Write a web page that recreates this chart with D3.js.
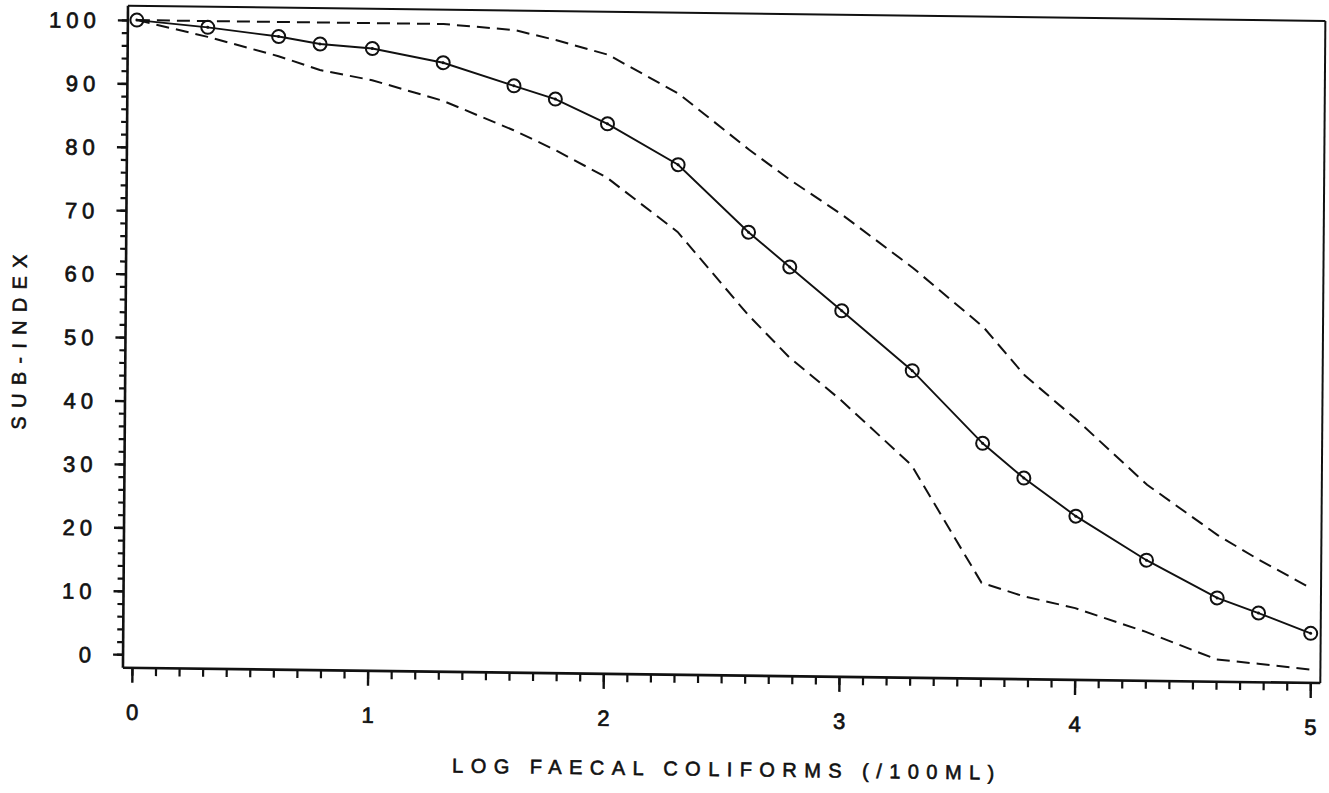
<!DOCTYPE html>
<html>
<head>
<meta charset="utf-8">
<script src="https://cdn.jsdelivr.net/npm/d3@7"></script>
<style>
  html, body { margin: 0; padding: 0; background: #fff; }
  svg { display: block; }
  text { font-family: "Liberation Sans", Arial, Helvetica, sans-serif; fill: #111; }
</style>
</head>
<body>
<svg id="chart" width="1329" height="793"></svg>
<script>
// log10 of faecal coliform count per 100 ml: 1, 2, 4, 6, 10, 20, ... 100000
const logCount   = [0, 0.301, 0.602, 0.778, 1, 1.301, 1.602, 1.778, 2, 2.301, 2.602, 2.778, 3, 3.301, 3.602, 3.778, 4, 4.301, 4.602, 4.778, 5];
// mean sub-index curve (plotted with circle markers)
const subIndex   = [100, 99, 97.7, 96.6, 96.0, 93.9, 90.4, 88.4, 84.6, 78.3, 67.8, 62.4, 55.6, 46.3, 35.0, 29.6, 23.7, 16.9, 11.1, 8.8, 5.7];
// upper and lower envelope curves (dashed)
const upperBound = [100, 100, 100, 100, 100, 100, 99.2, 97.7, 95.5, 89.5, 80.8, 76.1, 70.7, 62.5, 53.3, 45.8, 38.9, 28.8, 21.0, 17.2, 12.8];
const lowerBound = [100, 97.5, 94.6, 92.5, 91.0, 87.9, 83.4, 80.4, 76.1, 67.7, 54.8, 48.2, 41.5, 31.4, 13.0, 11.0, 9.2, 5.6, 1.4, 0.8, 0.0];

const xTicks = [0, 1, 2, 3, 4, 5];
const yTicks = [0, 10, 20, 30, 40, 50, 60, 70, 80, 90, 100];
const xTitle = "LOG FAECAL COLIFORMS (/100ML)";
const yTitle = "SUB-INDEX";

const W = 1197, H = 662;
const svg = d3.select("#chart");

// the plotted sheet sits slightly skewed on the page
const g = svg.append("g")
  .attr("transform", "matrix(1.0003,0.01282,-0.00763,1,128,5.7)");

const x = d3.scaleLinear().domain([0, 5]).range([9, 1187]);
const y = d3.scaleLinear().domain([0, 100]).range([648.6, 14.3]);

// plotter-style lettering: regular face thickened with a thin outline
const inkText = sel => sel
  .attr("fill", "#111")
  .attr("stroke", "#111")
  .attr("stroke-width", 0.7)
  .style("font-family", '"Liberation Sans", Arial, sans-serif');

// minor ticks
const xMinor = d3.range(0, 50.5, 1).map(d => d / 10);
const yMinor = d3.range(0, 101, 2);

g.append("g")
  .attr("transform", `translate(0,${H})`)
  .call(d3.axisBottom(x).tickValues(xMinor).tickSize(8).tickFormat(""))
  .call(a => a.select(".domain").remove())
  .call(a => a.selectAll("line").attr("stroke", "#111").attr("stroke-width", 2.2));

g.append("g")
  .call(d3.axisLeft(y).tickValues(yMinor).tickSize(6).tickFormat(""))
  .call(a => a.select(".domain").remove())
  .call(a => a.selectAll("line").attr("stroke", "#111").attr("stroke-width", 2.2));

// major ticks with labels
g.append("g")
  .attr("transform", `translate(0,${H})`)
  .call(d3.axisBottom(x).tickValues(xTicks).tickSize(15).tickFormat(d3.format("d")))
  .call(a => a.select(".domain").remove())
  .call(a => a.selectAll("line").attr("stroke", "#111").attr("stroke-width", 2.4))
  .call(a => a.selectAll("text")
    .attr("y", 52).attr("dy", 0)
    .attr("font-size", 22)
    .call(inkText));

g.append("g")
  .call(d3.axisLeft(y).tickValues(yTicks).tickSize(10).tickPadding(17).tickFormat(d3.format("d")))
  .call(a => a.select(".domain").remove())
  .call(a => a.selectAll("line").attr("stroke", "#111").attr("stroke-width", 2.4))
  .call(a => a.selectAll("text")
    .attr("font-size", 22)
    .attr("dy", "0.36em")
    .attr("letter-spacing", "5px")
    .call(inkText));

// frame
const frame = g.append("g").attr("stroke", "#111").attr("fill", "none");
frame.append("line").attr("x1", 0).attr("y1", 0).attr("x2", W).attr("y2", 0).attr("stroke-width", 2);
frame.append("line").attr("x1", W).attr("y1", 0).attr("x2", W).attr("y2", H).attr("stroke-width", 2);
frame.append("line").attr("x1", 0).attr("y1", 0).attr("x2", 0).attr("y2", H).attr("stroke-width", 2.6);
frame.append("line").attr("x1", 0).attr("y1", H).attr("x2", W).attr("y2", H).attr("stroke-width", 2.6);

// curves
const line = d3.line().x(d => x(d[0])).y(d => y(d[1]));
const pairs = arr => logCount.map((v, i) => [v, arr[i]]);

g.append("path")
  .datum(pairs(upperBound))
  .attr("d", line)
  .attr("fill", "none").attr("stroke", "#111").attr("stroke-width", 2)
  .attr("stroke-dasharray", "13,7");

g.append("path")
  .datum(pairs(lowerBound))
  .attr("d", line)
  .attr("fill", "none").attr("stroke", "#111").attr("stroke-width", 2)
  .attr("stroke-dasharray", "13,7");

g.append("path")
  .datum(pairs(subIndex))
  .attr("d", line)
  .attr("fill", "none").attr("stroke", "#111").attr("stroke-width", 1.9);

const marks = g.append("g").selectAll("g")
  .data(pairs(subIndex))
  .join("g")
  .attr("transform", d => `translate(${x(d[0])},${y(d[1])})`);
marks.append("circle").attr("r", 6.5).attr("fill", "none").attr("stroke", "#111").attr("stroke-width", 2);
marks.append("circle").attr("r", 1.5).attr("fill", "#111");

// axis titles
g.append("text")
  .attr("x", 600.8).attr("y", 762.7)
  .attr("text-anchor", "middle")
  .attr("font-size", 20)
  .attr("textLength", 542).attr("lengthAdjust", "spacing")
  .call(inkText)
  .attr("stroke-width", 0.6)
  .text(xTitle);

g.append("text")
  .attr("transform", "translate(-106.4,337.7) rotate(-90)")
  .attr("text-anchor", "middle")
  .attr("dy", "0.36em")
  .attr("font-size", 20)
  .attr("textLength", 175).attr("lengthAdjust", "spacing")
  .call(inkText)
  .attr("stroke-width", 0.6)
  .text(yTitle);
</script>
</body>
</html>
